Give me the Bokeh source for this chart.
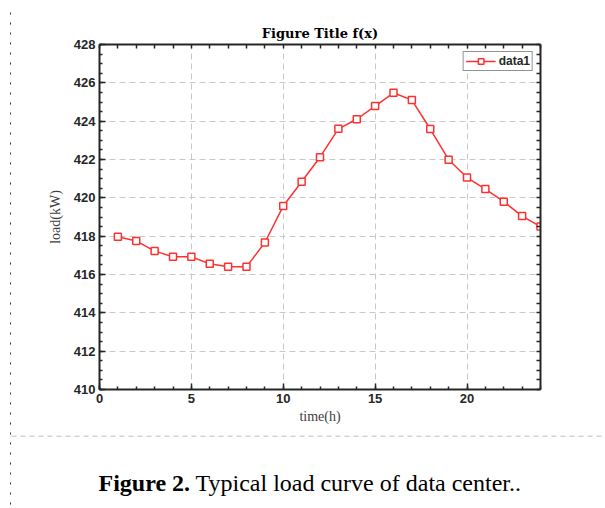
from bokeh.plotting import figure
from bokeh.models import Range1d, FixedTicker, LinearAxis
from bokeh.layouts import row, column
from bokeh.core.properties import value
from bokeh.embed import file_html
from bokeh.resources import INLINE

# ---- data ----
hours = list(range(1, 25))
load_kw = [417.97, 417.75, 417.22, 416.93, 416.92, 416.56, 416.40, 416.40,
           417.67, 419.57, 420.84, 422.12, 423.60, 424.10, 424.79, 425.48,
           425.10, 423.59, 421.99, 421.06, 420.46, 419.80, 419.05, 418.50]
x_major = [0, 5, 10, 15, 20]
x_minor = list(range(0, 25))
y_major = [410, 412, 414, 416, 418, 420, 422, 424, 426, 428]
y_minor = [410 + 0.5 * i for i in range(37)]
series_name = "data1"
title_text = "Figure Title f(x)"
x_label = "time(h)"
y_label = "load(kW)"
caption_bold = ["Figure 2."]
caption_rest = ["Typical load curve of data center.."]

RED = "#ff3030"
AX = "#262626"
MAIN_W, MAIN_H = 593, 424
STRIP = 11
CAP_H = 72


def blank(width, height):
    f = figure(width=width, height=height, output_backend="svg",
               toolbar_location=None, min_border=0, frame_align=False,
               x_axis_location=None, y_axis_location=None,
               x_range=Range1d(0, width), y_range=Range1d(height, 0))
    f.grid.visible = False
    f.outline_line_color = None
    f.background_fill_color = "white"
    f.border_fill_color = "white"
    return f


# ---- main chart ----
p = figure(width=MAIN_W, height=MAIN_H, output_backend="svg",
           toolbar_location=None, frame_align=False,
           x_range=Range1d(0, 24), y_range=Range1d(410, 428),
           min_border_left=88, min_border_right=64, min_border_top=33,
           min_border_bottom=46, title=title_text,
           x_axis_label=x_label, y_axis_label=y_label)
p.background_fill_color = "white"
p.border_fill_color = "white"
p.outline_line_color = None

p.title.align = "center"
p.title.text_font = "DejaVu Serif"
p.title.text_font_style = "bold"
p.title.text_font_size = "13px"
p.title.text_color = "black"
p.title.standoff = 8

xt = FixedTicker(ticks=x_major, minor_ticks=x_minor)
yt = FixedTicker(ticks=y_major, minor_ticks=y_minor)


def style_axis(ax):
    ax.axis_line_width = 2
    ax.axis_line_color = AX
    ax.major_tick_in = 6
    ax.major_tick_out = 0
    ax.minor_tick_in = 3
    ax.minor_tick_out = 0
    ax.major_tick_line_color = AX
    ax.minor_tick_line_color = AX
    ax.major_tick_line_width = 1.5
    ax.minor_tick_line_width = 1.5
    ax.major_label_text_font = "Liberation Sans"
    ax.major_label_text_font_style = "bold"
    ax.major_label_text_font_size = "13px"
    ax.major_label_text_color = AX
    ax.major_label_standoff = 4
    ax.axis_label_text_font = "Liberation Serif"
    ax.axis_label_text_font_style = "normal"
    ax.axis_label_text_font_size = "14px"
    ax.axis_label_text_color = "#404040"


p.xaxis[0].ticker = xt
p.yaxis[0].ticker = yt
style_axis(p.xaxis[0])
style_axis(p.yaxis[0])
p.xaxis[0].axis_label_standoff = 3
p.yaxis[0].axis_label_standoff = 8

top_ax = LinearAxis(ticker=FixedTicker(ticks=[], minor_ticks=x_minor))
right_ax = LinearAxis(ticker=FixedTicker(ticks=[], minor_ticks=y_minor))
for ax in (top_ax, right_ax):
    style_axis(ax)
    ax.minor_tick_in = 4
p.add_layout(top_ax, "above")
p.add_layout(right_ax, "right")

for g, t in ((p.xgrid[0], xt), (p.ygrid[0], yt)):
    g.ticker = t
    g.grid_line_color = "#c8c8c8"
    g.grid_line_dash = "6 4"
    g.grid_line_width = 1

p.line(hours, load_kw, line_color=RED, line_width=1.5, legend_label=series_name)
p.scatter(hours, load_kw, marker="square", size=7, line_color=RED,
          fill_color="white", line_width=1.5, legend_label=series_name)

lg = p.legend[0]
lg.location = "top_right"
lg.margin = 7
lg.padding = 2
lg.spacing = 0
lg.border_line_color = AX
lg.border_line_width = 1.5
lg.label_text_font = "Liberation Sans"
lg.label_text_font_style = "bold"
lg.label_text_font_size = "12px"
lg.label_text_color = AX
lg.glyph_width = 30
lg.glyph_height = 14
lg.label_height = 14
lg.label_standoff = 3
lg.background_fill_alpha = 1

# ---- document decorations ----
top_strip = blank(MAIN_W, STRIP)
top_strip.segment(x0=[0], y0=[STRIP - 0.5], x1=[MAIN_W], y1=[STRIP - 0.5],
                  line_color="#a8a8a8", line_dash="5 4", line_width=1)

left_strip = blank(STRIP, STRIP + MAIN_H + CAP_H)
left_strip.segment(x0=[STRIP - 0.75], y0=[12], x1=[STRIP - 0.75],
                   y1=[STRIP + MAIN_H + CAP_H], line_color="#333333",
                   line_dash="2 8", line_width=1.5)

cap = blank(MAIN_W, CAP_H)
cap.segment(x0=[0], y0=[0.5], x1=[MAIN_W], y1=[0.5],
            line_color="#a8a8a8", line_dash="5 4", line_width=1)
cap.text(x=[87], y=[47], text=caption_bold, text_font=value("Liberation Serif"),
         text_font_style="bold", text_font_size=value("24px"),
         text_color="black", text_baseline="alphabetic", text_align="left")
cap.text(x=[184], y=[47], text=caption_rest, text_font=value("Liberation Serif"),
         text_font_style="normal", text_font_size=value("24px"),
         text_color="black", text_baseline="alphabetic", text_align="left")

layout = row(left_strip, column(top_strip, p, cap, spacing=0), spacing=0)

open("out.html", "w").write(file_html(layout, INLINE))
